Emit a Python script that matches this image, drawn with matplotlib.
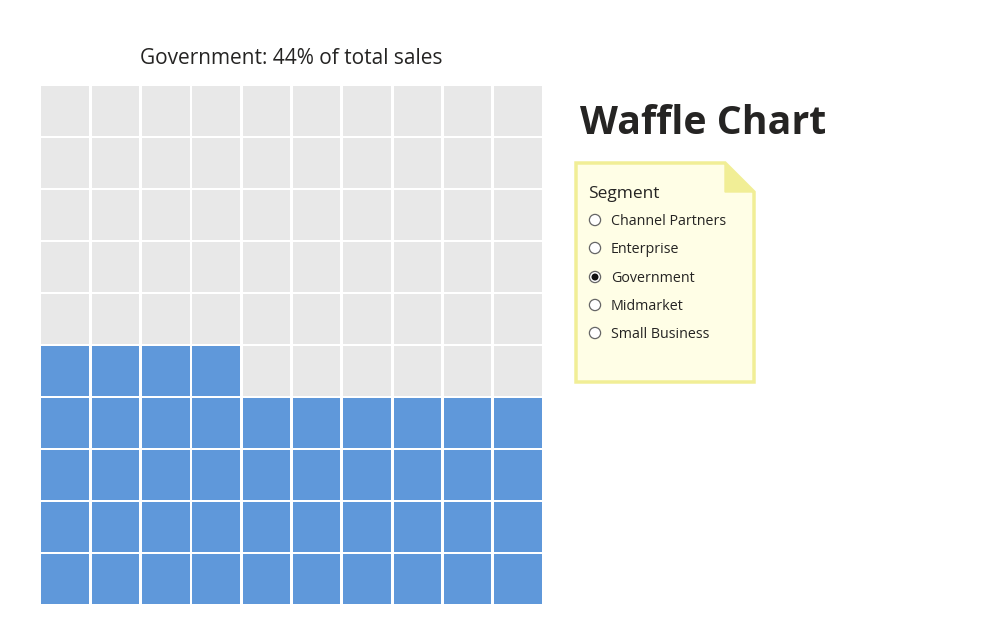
import matplotlib
matplotlib.use("Agg")
import matplotlib.pyplot as plt
from matplotlib.patches import Rectangle, Polygon, Circle

segments = ["Channel Partners", "Enterprise", "Government", "Midmarket", "Small Business"]
selected = "Government"
share_pct = 44
n_rows = 10
n_cols = 10
title = f"{selected}: {share_pct}% of total sales"

W, H = 999, 641
fig = plt.figure(figsize=(W / 100, H / 100), dpi=100)
fig.patch.set_facecolor("white")

def fx(px):
    return px / W

def fy(py):
    return 1 - py / H

# Waffle axes
gx0, gx1, gy0, gy1 = 40, 543, 85, 605
ax = fig.add_axes([fx(gx0), fy(gy1), (gx1 - gx0) / W, (gy1 - gy0) / H])
ax.set_xlim(0, n_cols)
ax.set_ylim(0, n_rows)
ax.axis("off")
gap_x = 2.8 / ((gx1 - gx0) / n_cols)
gap_y = 2.8 / ((gy1 - gy0) / n_rows)
blue = "#5f98da"
gray = "#e8e8e8"
for i in range(n_rows * n_cols):
    r = i // n_cols
    c = i % n_cols
    color = blue if i < share_pct else gray
    ax.add_patch(Rectangle((c + gap_x / 2, r + gap_y / 2), 1 - gap_x, 1 - gap_y,
                           facecolor=color, edgecolor="none"))

# Overlay axes in pixel coordinates
ov = fig.add_axes([0, 0, 1, 1])
ov.set_xlim(0, W)
ov.set_ylim(H, 0)
ov.axis("off")
ov.patch.set_alpha(0)

ov.text(291, 58.5, title, ha="center", va="center", fontsize=15, color="#252423",
        family="Open Sans")
ov.text(580, 124, "Waffle Chart", ha="left", va="center", fontsize=28.3,
        fontweight="bold", color="#252423", family="Open Sans")

# Note box
bx0, by0, bx1, by1 = 576, 163, 754, 382
fold = 29
box = Polygon([(bx0, by0), (bx1 - fold, by0), (bx1, by0 + fold), (bx1, by1), (bx0, by1)],
              closed=True, facecolor="#fffee6", edgecolor="#f1ee96", linewidth=2.5)
ov.add_patch(box)
ov.add_patch(Polygon([(bx1 - fold, by0), (bx1, by0 + fold), (bx1 - fold, by0 + fold)],
                     closed=True, facecolor="#f1ee96", edgecolor="#f1ee96", linewidth=1))

ov.text(588, 194, "Segment", ha="left", va="center", fontsize=12.5, color="#252423",
        family="Open Sans")
ys = [220, 248, 277, 305, 333]
for s, y in zip(segments, ys):
    ov.add_patch(Circle((595, y), 5.6, facecolor="white", edgecolor="#666666", linewidth=0.9))
    if s == selected:
        ov.add_patch(Circle((595, y), 3.5, facecolor="#111111", edgecolor="none"))
    ov.text(611, y + 1.5, s, ha="left", va="center", fontsize=10.3, color="#252423",
            family="Open Sans")

fig.savefig("out.png", dpi=100, facecolor="white")
